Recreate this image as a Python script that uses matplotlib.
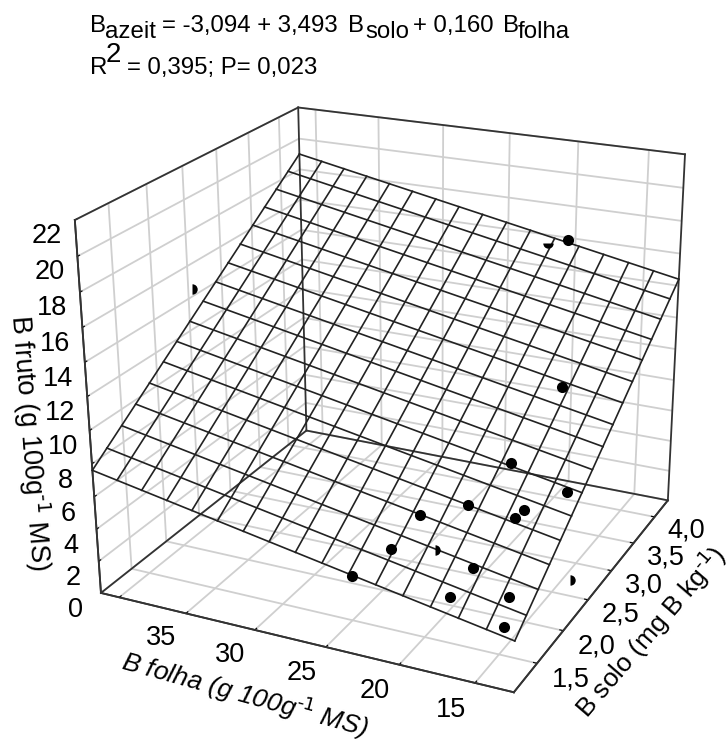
import matplotlib
matplotlib.use('Agg')
import matplotlib.pyplot as plt

plt.rcParams['font.family'] = ['Liberation Sans', 'DejaVu Sans']
plt.rcParams['mathtext.default'] = 'regular'
plt.rcParams['axes.unicode_minus'] = False

# axis ranges and ticks
folha_lim = (41.4, 12.5)
solo_lim = (1.08, 4.33)
fruto_lim = (0, 22)
folha_ticks = [40, 35, 30, 25, 20, 15]
folha_labels = ['', '35', '30', '25', '20', '15']
solo_ticks = [1.5, 2.0, 2.5, 3.0, 3.5, 4.0]
solo_labels = ['1,5', '2,0', '2,5', '3,0', '3,5', '4,0']
fruto_ticks = [0, 2, 4, 6, 8, 10, 12, 14, 16, 18, 20, 22]

# observed samples
folha = [20.62, 16.52, 17.35, 13.37, 18.63, 21.06, 15.32, 15.62, 21.70, 16.62, 17.11, 13.90, 13.42, 23.08]
solo = [4.35, 3.06, 2.32, 2.26, 1.89, 1.69, 2.01, 1.93, 1.37, 1.46, 1.20, 1.36, 1.14, 1.07]
fruto = [15.79, 10.61, 8.14, 7.30, 6.83, 6.50, 6.73, 6.48, 5.48, 5.00, 4.16, 4.21, 3.38, 4.68]

# samples cut off in the source picture
cut_folha = [41.00, 19.22, 14.06]
cut_solo = [2.48, 1.48, 2.59]
cut_fruto = [14.70, 5.49, 0.60]
low_folha = [21.79]
low_solo = [4.27]
low_fruto = [15.67]

# regression mesh: line positions and fruto value at each line end
mesh_folha = [41.4, 39.59, 37.79, 35.98, 34.18, 32.37, 30.56, 28.76, 26.95, 25.14, 23.34, 21.53, 19.73, 17.92, 16.11, 14.31, 12.5]
mesh_solo = [1.08, 1.28, 1.49, 1.69, 1.89, 2.10, 2.30, 2.50, 2.71, 2.91, 3.11, 3.31, 3.52, 3.72, 3.92, 4.13, 4.33]
z_low_solo = [7.61, 7.32, 7.03, 6.74, 6.46, 6.17, 5.88, 5.60, 5.31, 5.02, 4.73, 4.45, 4.16, 3.87, 3.58, 3.30, 3.01]
z_high_solo = [19.00, 18.72, 18.43, 18.14, 17.86, 17.57, 17.28, 16.99, 16.71, 16.42, 16.13, 15.84, 15.56, 15.27, 14.98, 14.70, 14.41]
z_high_folha = [7.61, 8.32, 9.03, 9.75, 10.46, 11.17, 11.88, 12.60, 13.31, 14.02, 14.73, 15.44, 16.16, 16.87, 17.58, 18.29, 19.00]
z_low_folha = [3.01, 3.72, 4.43, 5.15, 5.86, 6.57, 7.28, 8.00, 8.71, 9.42, 10.13, 10.84, 11.56, 12.27, 12.98, 13.69, 14.41]

W, H = 726, 739
fig = plt.figure(figsize=(W / 100, H / 100), dpi=100)
ax = fig.add_subplot(projection='3d', computed_zorder=False)
ax.set_position([0.0428, 0.0038, 0.9778, 0.9606])
ax.view_init(22.394, -64.253, 0.404)
ax.set_proj_type('persp', focal_length=0.5288)
ax.set_box_aspect((1.0177, 1, 0.8924))
ax.set_xlim(*folha_lim, view_margin=0)
ax.set_ylim(*solo_lim, view_margin=0)
ax.set_zlim(*fruto_lim, view_margin=0)

ax.set_xticks(folha_ticks, folha_labels)
ax.set_yticks(solo_ticks, solo_labels)
ax.set_zticks(fruto_ticks)
ax.zaxis.set_ticks_position('lower')

for axis in (ax.xaxis, ax.yaxis, ax.zaxis):
    axis.set_pane_color((1, 1, 1, 1))
    axis.line.set_color('#333333')
    axis.line.set_linewidth(1.3)
    axis._axinfo['grid'].update(color='#cfcfcf', linewidth=1.3)
    axis._axinfo['tick'].update(inward_factor=0, outward_factor=0.1, color='#333333')
ax.tick_params(labelsize=19.5, pad=3)
ax.tick_params(axis='x', pad=4)
ax.tick_params(axis='y', pad=1)

for lab in ax.get_xticklabels():
    lab.set(va='center', ha='right')
for lab in ax.get_yticklabels():
    lab.set(va='center', ha='left')

# box outline
x0, x1 = folha_lim
y0, y1 = solo_lim
z0, z1 = fruto_lim
edges = [((x0, x1), (y0, y0), (z0, z0)), ((x1, x1), (y0, y1), (z0, z0)), ((x1, x0), (y1, y1), (z0, z0)),
         ((x0, x0), (y1, y0), (z0, z0)), ((x0, x0), (y0, y0), (z0, z1)), ((x0, x0), (y1, y1), (z0, z1)),
         ((x1, x1), (y1, y1), (z0, z1)), ((x0, x0), (y0, y1), (z1, z1)), ((x0, x1), (y1, y1), (z1, z1))]
for ex, ey, ez in edges:
    ax.plot(ex, ey, ez, color='#333333', lw=1.3, zorder=2)

# mesh
for i, x in enumerate(mesh_folha):
    ax.plot([x, x], solo_lim, [z_low_solo[i], z_high_solo[i]], color='#222222', lw=1.2, zorder=3)
for j, y in enumerate(mesh_solo):
    ax.plot(folha_lim, [y, y], [z_high_folha[j], z_low_folha[j]], color='#222222', lw=1.2, zorder=3)

ax.plot(folha, solo, fruto, 'o', color='black', ms=8, mew=0, zorder=4)
ax.plot(cut_folha, cut_solo, cut_fruto, 'o', color='black', ms=7.5, mew=0, fillstyle='right',
        markerfacecoloralt='none', zorder=4)
ax.plot(low_folha, low_solo, low_fruto, 'o', color='black', ms=7.5, mew=0, fillstyle='bottom',
        markerfacecoloralt='none', zorder=4)

# axis titles
fig.text(30 / W, 1 - 443 / H, r'B fruto (g 100g$^{\text{-1}}$ MS)', rotation=-85.5, fontsize=19.5,
         ha='center', va='center')
fig.text(245 / W, 1 - 694 / H, r'B folha (g 100g$^{\text{-1}}$ MS)', rotation=-15.5, fontsize=19, style='italic',
         ha='center', va='center')
fig.text(650 / W, 1 - 632 / H, r'B solo (mg B kg$^{\text{-1}}$)', rotation=49.4, fontsize=19,
         ha='center', va='center')

# equation, piece by piece since subscripts keep the full size
eq_pieces = [(90, 32, 'B'), (105, 38, 'azeit'), (162, 32, '= -3,094 + 3,493'), (348, 32, 'B'), (365, 38, 'solo'),
             (413, 32, '+ 0,160'), (503, 32, 'B'), (518, 38, 'folha'), (90, 74, 'R'),
             (127, 74, '= 0,395; P= 0,023')]
for px, py, s in eq_pieces:
    fig.text(px / W, 1 - py / H, s, fontsize=17.3, va='baseline')
fig.text(106 / W, 1 - 62 / H, '2', fontsize=20, va='baseline')

fig.savefig('out.png', dpi=100)
